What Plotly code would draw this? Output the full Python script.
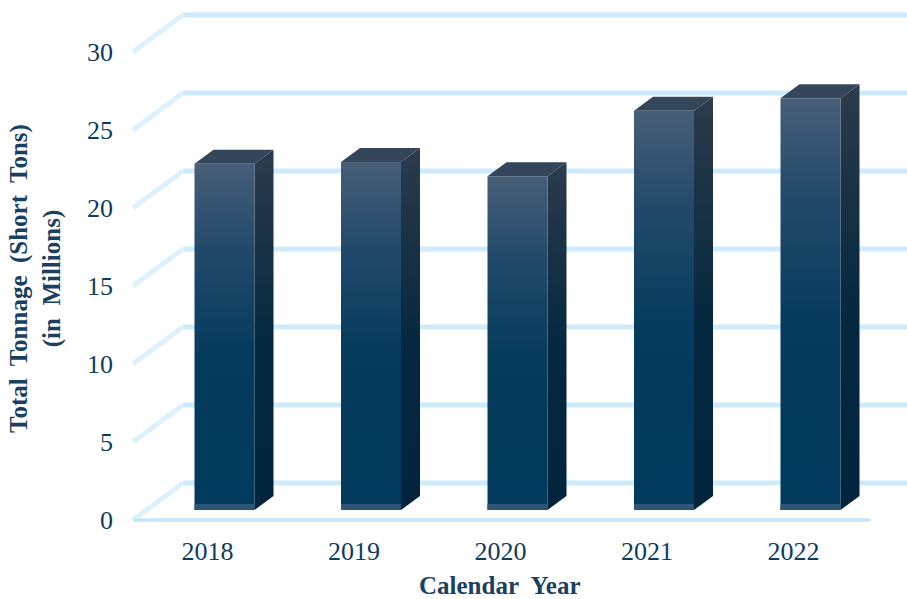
import plotly.graph_objects as go

# ---------------- data ----------------
years = ["2018", "2019", "2020", "2021", "2022"]
tonnage = [22.2, 22.3, 21.4, 25.6, 26.4]          # millions of short tons
y_ticks = [0, 5, 10, 15, 20, 25, 30]

# ---------------- geometry (data units) ----------------
PX_X = 146.5      # pixels per category
PX_Y = 15.6       # pixels per value unit
wall_dx = 50 / PX_X
wall_dy = 37 / PX_Y
floor_x0 = -0.509
floor_x1 = 4.522
back_x1 = 5.2
bar_left = -13 / PX_X
bar_w = 60 / PX_X
side_dx = 19 / PX_X
side_dy = 14 / PX_Y
bar_base = 10 / PX_Y
base_h = 6 / PX_Y

GRID = "#cdebfb"
DIAG = "#dcf1fc"
TXT = "#0f3b5c"
FONT = "Liberation Serif"

fig = go.Figure()

# back wall gridlines + side wall diagonals
for v in y_ticks:
    fig.add_trace(go.Scatter(
        x=[floor_x0 + wall_dx, back_x1], y=[v + wall_dy, v + wall_dy],
        mode="lines", line=dict(color=GRID, width=5), hoverinfo="skip"))
    fig.add_trace(go.Scatter(
        x=[floor_x0, floor_x0 + wall_dx], y=[v, v + wall_dy],
        mode="lines", line=dict(color=DIAG, width=5), hoverinfo="skip"))

# front floor edge
fig.add_trace(go.Scatter(
    x=[floor_x0, floor_x1], y=[0, 0], mode="lines",
    line=dict(color="#c6e7f8", width=3.5), hoverinfo="skip"))

# 3D bars
for i, v in enumerate(tonnage):
    xl = i + bar_left
    xr = xl + bar_w
    yb = bar_base
    yt = bar_base + v
    # side face
    fig.add_trace(go.Scatter(
        x=[xr, xr + side_dx, xr + side_dx, xr, xr],
        y=[yb, yb + side_dy, yt + side_dy, yt, yb],
        mode="lines", line=dict(width=0), fill="toself",
        fillgradient=dict(type="vertical", start=yb, stop=yt + side_dy,
                          colorscale=[[0, "#00243b"], [0.45, "#03283f"],
                                      [0.8, "#1d3446"], [1, "#2b3c4d"]]),
        hoverinfo="skip"))
    # top face
    fig.add_trace(go.Scatter(
        x=[xl, xl + side_dx, xr + side_dx, xr, xl],
        y=[yt, yt + side_dy, yt + side_dy, yt, yt],
        mode="lines", line=dict(width=0), fill="toself",
        fillcolor="#34475a", hoverinfo="skip"))
    # front face
    fig.add_trace(go.Scatter(
        x=[xl, xr, xr, xl, xl], y=[yb, yb, yt, yt, yb],
        mode="lines", line=dict(width=0), fill="toself",
        fillgradient=dict(type="vertical", start=yb, stop=yt,
                          colorscale=[[0, "#013a5c"], [0.45, "#053b5d"],
                                      [0.75, "#22496a"], [1, "#475e77"]]),
        hoverinfo="skip"))
    # base strip
    fig.add_trace(go.Scatter(
        x=[xl, xr, xr, xl, xl], y=[yb, yb, yb + base_h, yb + base_h, yb],
        mode="lines", line=dict(width=0), fill="toself",
        fillcolor="#2f5576", hoverinfo="skip"))

W, H = 907, 599
ML, MR, MT, MB = 120, 0, 5, 69
pw, ph = W - ML - MR, H - MT - MB

fig.update_layout(
    width=W, height=H, showlegend=False,
    margin=dict(l=ML, r=MR, t=MT, b=MB),
    paper_bgcolor="white", plot_bgcolor="white",
    xaxis=dict(range=[(ML - 207.5) / PX_X, (W - 207.5) / PX_X],
               tickvals=list(range(len(years))), ticktext=years,
               showgrid=False, zeroline=False, showline=False, ticks="",
               ticklabelstandoff=3,
               tickfont=dict(family=FONT, size=26, color=TXT)),
    yaxis=dict(range=[(520 - 530) / PX_Y, (520 - 5) / PX_Y],
               tickvals=y_ticks, showgrid=False, zeroline=False,
               showline=False, ticks="", ticklabelstandoff=6,
               tickfont=dict(family=FONT, size=26, color=TXT)),
    annotations=[
        dict(text="<b>Total\u00a0 Tonnage\u00a0 (Short\u00a0 Tons)</b><br><b>(in\u00a0 Millions)</b>",
             xref="paper", yref="paper",
             x=(35 - ML) / pw, y=(MT + ph - 279) / ph,
             xanchor="center", yanchor="middle",
             textangle=-90, showarrow=False,
             font=dict(family=FONT, size=25, color="#1b3f5f")),
        dict(text="<b>Calendar\u00a0 Year</b>",
             xref="paper", yref="paper",
             x=(500 - ML) / pw, y=(MT + ph - 585) / ph,
             xanchor="center", yanchor="middle",
             showarrow=False,
             font=dict(family=FONT, size=25, color="#1b3f5f")),
    ],
)

fig.write_html("out.html")
